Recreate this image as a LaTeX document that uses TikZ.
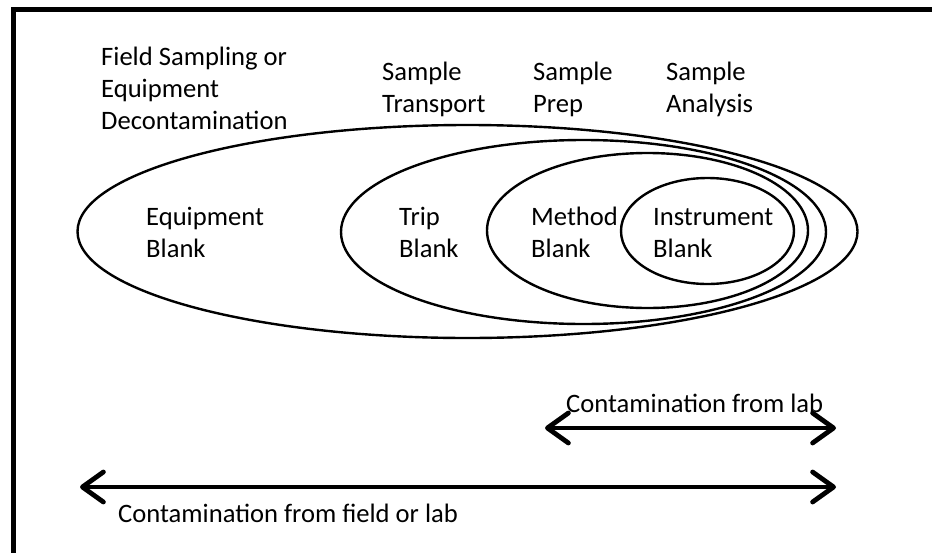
\documentclass[tikz,border=0pt]{standalone}
\usepackage{fontspec}
\setmainfont{Carlito}
\usetikzlibrary{arrows.meta}
\begin{document}
\begin{tikzpicture}[x=1pt,y=-1pt,
  lbl/.style={font=\fontsize{26.6}{32}\selectfont, align=left, inner sep=0pt, anchor=base west},
  ell/.style={draw, line width=2.4pt},
  barb/.tip={Straight Barb[length=21pt,width=30pt,line cap=round,line join=round]},
  arr/.style={line width=4.8pt, barb-barb}]
\useasboundingbox (0,0) rectangle (932,552);
\clip (0,0) rectangle (932,552);
\fill[white] (0,0) rectangle (932,552);
% frame (right and bottom sides lie outside the picture)
\draw[line width=4.5pt] (13.5,600) -- (13.5,9.5) -- (980,9.5) -- (980,600) -- cycle;
% nested ellipses
\draw[ell] (467.5,231.5) ellipse [x radius=390pt, y radius=106.5pt];
\draw[ell] (583.5,232) ellipse [x radius=242.5pt, y radius=92pt];
\draw[ell] (647.5,230.5) ellipse [x radius=160.5pt, y radius=77.5pt];
\draw[ell] (707.5,231) ellipse [x radius=86.5pt, y radius=53pt];
% stage labels (anchor = baseline of last line)
\node[lbl] (field) at (101,129) {Field Sampling or\\Equipment\\Decontamination};
\node[lbl] (transport) at (382,112) {Sample\\Transport};
\node[lbl] (prep) at (533,112) {Sample\\Prep};
\node[lbl] (analysis) at (666,112) {Sample\\Analysis};
% blank labels
\node[lbl] (equip) at (146,257) {Equipment\\Blank};
\node[lbl] (trip) at (399,257) {Trip\\Blank};
\node[lbl] (method) at (531,257) {Method\\Blank};
\node[lbl] (instr) at (653,257) {Instrument\\Blank};
% arrows
\coordinate (labL) at (545,428);
\coordinate (labR) at (836,428);
\coordinate (fldL) at (80,487);
\coordinate (fldR) at (836,487);
\draw[arr] (labL) -- (labR);
\draw[arr] (fldL) -- (fldR);
\node[lbl] (labtxt) at (566,412) {Contamination from lab};
\node[lbl] (fldtxt) at (118,522) {Contamination from field or lab};
\end{tikzpicture}
\end{document}
